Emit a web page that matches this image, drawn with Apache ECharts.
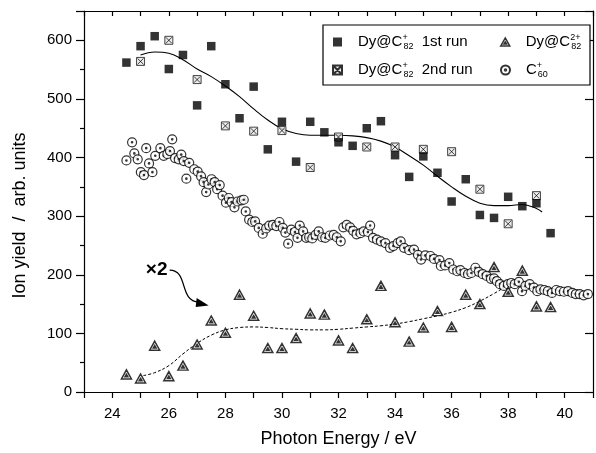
<!DOCTYPE html>
<html>
<head>
<meta charset="utf-8">
<script src="https://cdn.jsdelivr.net/npm/echarts@6/dist/echarts.min.js"></script>
<style>
  html, body { margin: 0; padding: 0; background: #fff; }
  #chart { width: 596px; height: 453px; }
</style>
</head>
<body>
<div id="chart"></div>
<script>
const FONT = '"Liberation Sans", Arial, Helvetica, sans-serif';

// Tick labels
const xTickLabels = [24, 26, 28, 30, 32, 34, 36, 38, 40];
const yTickLabels = [0, 100, 200, 300, 400, 500, 600];

// Dy@C82+ ion yield, 1st run
const run1E = [24.5, 25, 25.5, 26, 26.5, 27, 27.5, 28, 28.5, 29, 29.5, 30, 30.5, 31, 31.5, 32,
  32.5, 33, 33.5, 34, 34.5, 35, 35.5, 36, 36.5, 37, 37.5, 38, 38.5, 39, 39.5];
const run1Y = [562, 590, 607, 551, 575, 489, 590, 525, 467, 521, 414, 461, 393, 461, 443, 426,
  420, 450, 462, 404, 367, 402, 374, 325, 363, 302, 297, 333, 317, 322, 271];

// Dy@C82+ ion yield, 2nd run
const run2E = [25, 26, 27, 28, 29, 30, 31, 32, 33, 34, 35, 36, 37, 38, 39];
const run2Y = [564, 600, 533, 454, 445, 446, 383, 435, 418, 418, 414, 410, 346, 287, 335];

// Dy@C82 2+ ion yield (scaled x2)
const dicE = [24.5, 25, 25.5, 26, 26.5, 27, 27.5, 28, 28.5, 29, 29.5, 30, 30.5, 31, 31.5, 32,
  32.5, 33, 33.5, 34, 34.5, 35, 35.5, 36, 36.5, 37, 37.5, 38, 38.5, 39, 39.5];
const dicY = [30, 23, 79, 27, 45, 81, 122, 101, 166, 130, 75, 75, 92, 134, 132, 88,
  75, 124, 181, 119, 86, 110, 138, 111, 166, 150, 213, 171, 207, 146, 145];

// C60+ ion yield
const c60E = [24.50, 24.70, 24.78, 24.90, 25.01, 25.12, 25.20, 25.30, 25.42, 25.52,
  25.70, 25.82, 25.95, 26.04, 26.12, 26.22, 26.35, 26.44, 26.53, 26.62,
  26.72, 26.90, 27.02, 27.14, 27.23, 27.32, 27.40, 27.51, 27.62, 27.71,
  27.80, 27.90, 28.02, 28.12, 28.22, 28.32, 28.43, 28.57, 28.65, 28.72,
  28.84, 28.95, 29.05, 29.18, 29.32, 29.44, 29.55, 29.68, 29.80, 29.91,
  30.03, 30.12, 30.22, 30.33, 30.46, 30.55, 30.63, 30.75, 30.86, 30.96,
  31.07, 31.19, 31.30, 31.42, 31.53, 31.69, 31.83, 31.94, 32.08, 32.17,
  32.29, 32.41, 32.52, 32.64, 32.78, 32.89, 33.04, 33.12, 33.22, 33.36,
  33.50, 33.66, 33.82, 33.94, 34.09, 34.20, 34.32, 34.50, 34.67, 34.81,
  34.92, 35.07, 35.25, 35.38, 35.57, 35.62, 35.77, 35.92, 36.06, 36.20,
  36.31, 36.46, 36.58, 36.70, 36.84, 36.96, 37.10, 37.24, 37.39, 37.50,
  37.60, 37.71, 37.85, 37.99, 38.11, 38.23, 38.38, 38.49, 38.61, 38.76,
  38.91, 39.03, 39.14, 39.28, 39.40, 39.55, 39.70, 39.83, 39.97, 40.12,
  40.27, 40.39, 40.53, 40.67, 40.82];
const c60Y = [395, 426, 407, 397, 375, 370, 416, 390, 375, 403,
  416, 403, 406, 411, 431, 399, 397, 405, 394, 364,
  391, 380, 376, 368, 358, 341, 354, 363, 358, 346,
  353, 335, 323, 331, 324, 315, 325, 327, 328, 308,
  294, 290, 291, 280, 270, 279, 284, 285, 283, 290,
  280, 272, 253, 277, 273, 263, 284, 274, 263, 264,
  262, 268, 274, 264, 263, 267, 268, 264, 257, 281,
  285, 281, 275, 269, 271, 274, 273, 284, 263, 260,
  257, 254, 246, 249, 254, 257, 246, 242, 243, 234,
  226, 233, 232, 227, 225, 215, 216, 220, 209, 206,
  208, 203, 201, 203, 212, 205, 201, 198, 193, 194,
  189, 184, 181, 184, 186, 184, 188, 172, 181, 184,
  178, 172, 175, 174, 172, 169, 174, 172, 171, 172,
  169, 167, 167, 165, 167];

// Fit curve through Dy@C82+ (solid)
const fitE = [25.0, 25.5, 26.0, 26.5, 27.0, 27.5, 28.0, 28.5, 29.0, 29.5, 30.0, 30.5, 31.0, 31.5,
  32.0, 32.5, 33.0, 33.5, 34.0, 34.5, 35.0, 35.5, 36.0, 36.5, 37.0, 37.5, 38.0, 38.5, 39.0, 39.2];
const fitY = [575, 580, 578, 567, 551, 538, 522, 504, 483, 464, 449, 441, 438, 438,
  438, 437, 434, 428, 418, 403, 387, 368, 350, 334, 322, 318, 318, 320, 313, 307];

// Fit curve through Dy@C82 2+ (dashed)
const fit2E = [25.1, 25.5, 26.0, 26.5, 27.0, 27.5, 28.0, 28.5, 29.0, 29.5, 30.0, 30.5, 31.0, 31.5,
  32.0, 32.5, 33.0, 33.5, 34.0, 34.5, 35.0, 35.5, 36.0, 36.5, 37.0, 37.5, 38.0, 38.3];
const fit2Y = [28, 33, 45, 65, 83, 97, 106, 110, 111, 110, 108, 107, 106, 106,
  107, 109, 111, 113, 116, 120, 125, 130, 136, 144, 155, 168, 182, 188];

// Annotation for the scaled series
const scaleNote = '×2';
const scaleNoteAt = [25.57, 208];

const zip = (xs, ys) => xs.map((x, i) => [x, ys[i]]);

// Marker shapes
const SYM_BOXX = 'path://M0,0H10V10H0Z M1.2,1.2L8.8,8.8 M8.8,1.2L1.2,8.8';
const SYM_RING = 'path://M0,5A5,5 0 1,0 10,5A5,5 0 1,0 0,5Z M4.2,5A0.8,0.8 0 1,0 5.8,5A0.8,0.8 0 1,0 4.2,5Z';
const SYM_TRI = 'path://M5,0L10,9H0Z M5,4.4L6.4,6.8H3.6Z';

const TRI_STYLE = { color: '#fff', borderColor: '#000', borderWidth: 1.5 };

const legendText = {
  run1: '{m|Dy@C}{p|+}{s|82}{m|  1st run}',
  dic: '{m|Dy@C}{p|2+}{s|82}',
  run2: '{m|Dy@C}{p|+}{s|82}{m|  2nd run}',
  c60: '{m|C}{p|+}{s|60}'
};

const chart = echarts.init(document.getElementById('chart'), null, { renderer: 'canvas' });

const axisCommon = {
  axisLine: { show: true, onZero: false, lineStyle: { color: '#000', width: 1.2 } },
  splitLine: { show: false }
};

chart.setOption({
  animation: false,
  backgroundColor: '#fff',
  grid: { left: 84, right: -6, top: 11, bottom: 58, containLabel: false },
  xAxis: [
    Object.assign({}, axisCommon, {
      type: 'value', min: 23, max: 41, interval: 1, position: 'bottom',
      axisTick: { show: true, inside: false, length: 6, lineStyle: { color: '#000', width: 1.2 } },
      axisLabel: {
        fontFamily: FONT, fontSize: 15, color: '#000', margin: 14,
        formatter: v => (xTickLabels.indexOf(v) >= 0 ? String(v) : '')
      },
      name: 'Photon Energy / eV', nameLocation: 'middle', nameGap: 38,
      nameTextStyle: { fontFamily: FONT, fontSize: 18, color: '#000' }
    }),
    Object.assign({}, axisCommon, {
      type: 'value', min: 23, max: 41, interval: 1, position: 'top',
      axisTick: { show: true, inside: true, length: 5, lineStyle: { color: '#000', width: 1.2 } },
      axisLabel: { show: false }
    })
  ],
  yAxis: [
    Object.assign({}, axisCommon, {
      type: 'value', min: 0, max: 650, interval: 100, position: 'left',
      axisTick: { show: true, inside: false, length: 8, lineStyle: { color: '#000', width: 1.2 } },
      minorTick: { show: true, splitNumber: 2, length: 4, lineStyle: { color: '#000', width: 1.2 } },
      axisLabel: {
        fontFamily: FONT, fontSize: 15, color: '#000', margin: 12,
        formatter: v => (yTickLabels.indexOf(v) >= 0 ? String(v) : '')
      },
      name: 'Ion yield  /  arb. units', nameLocation: 'middle', nameGap: 55,
      nameTextStyle: { fontFamily: FONT, fontSize: 18, color: '#000', padding: [0, 28, 0, 0] }
    }),
    Object.assign({}, axisCommon, {
      type: 'value', min: 0, max: 650, interval: 100, position: 'right',
      axisTick: { show: true, inside: true, length: 8, lineStyle: { color: '#000', width: 1.2 } },
      axisLabel: { show: false }
    })
  ],
  legend: {
    left: 323, top: 25, orient: 'horizontal', width: 250,
    itemWidth: 9, itemHeight: 9, itemGap: 10,
    padding: [8, 8, 6, 9],
    borderColor: '#000', borderWidth: 1.2, backgroundColor: '#fff',
    selectedMode: false,
    data: [
      { name: 'run1', textStyle: { width: 132 } },
      { name: 'dic', textStyle: { width: 56 }, itemStyle: TRI_STYLE },
      { name: 'run2', textStyle: { width: 132 } },
      { name: 'c60', textStyle: { width: 56 } }
    ],
    formatter: n => legendText[n],
    textStyle: {
      fontFamily: FONT, fontSize: 15, color: '#000', padding: [0, 0, 0, 11], lineHeight: 18,
      rich: {
        m: { fontFamily: FONT, fontSize: 15, color: '#000', lineHeight: 18 },
        p: { fontFamily: FONT, fontSize: 9, color: '#000', verticalAlign: 'top', width: 1, lineHeight: 10 },
        s: { fontFamily: FONT, fontSize: 9, color: '#000', verticalAlign: 'bottom', lineHeight: 10 }
      }
    }
  },
  series: [
    {
      name: 'fit1', type: 'line', data: zip(fitE, fitY), smooth: 0.4, showSymbol: false,
      lineStyle: { color: '#000', width: 1.1 }, silent: true, z: 1
    },
    {
      name: 'fit2', type: 'line', data: zip(fit2E, fit2Y), smooth: 0.4, showSymbol: false,
      lineStyle: { color: '#000', width: 1, type: [3, 2] }, silent: true, z: 1
    },
    {
      name: 'c60', type: 'scatter', data: zip(c60E, c60Y), symbol: SYM_RING, symbolSize: 9,
      itemStyle: { color: '#fff', borderColor: '#000', borderWidth: 1.2 }, z: 2
    },
    {
      name: 'run2', type: 'scatter', data: zip(run2E, run2Y), symbol: SYM_BOXX, symbolSize: 8,
      itemStyle: { color: '#e6e6e6', borderColor: '#000', borderWidth: 0.9 }, z: 3
    },
    {
      name: 'run1', type: 'scatter', data: zip(run1E, run1Y), symbol: 'rect', symbolSize: 8.5,
      itemStyle: { color: '#000' }, z: 4
    },
    {
      name: 'dic', type: 'scatter', data: zip(dicE, dicY), symbol: SYM_TRI, symbolSize: [10, 9],
      itemStyle: TRI_STYLE, z: 4
    }
  ]
});

// "×2" label with a curved arrow pointing at the scaled series
const p = chart.convertToPixel({ gridIndex: 0 }, scaleNoteAt);
chart.setOption({
  graphic: [
    {
      type: 'text', x: p[0], y: p[1], z: 10,
      style: { text: scaleNote, font: 'bold 19px ' + FONT, fill: '#000', align: 'center', verticalAlign: 'middle' }
    },
    {
      type: 'bezierCurve', z: 10,
      shape: { x1: p[0] + 13, y1: p[1], cpx1: p[0] + 32, cpy1: p[1], cpx2: p[0] + 22, cpy2: p[1] + 31, x2: p[0] + 42, y2: p[1] + 32 },
      style: { stroke: '#000', lineWidth: 1.2, fill: null }
    },
    {
      type: 'polygon', z: 10,
      shape: { points: [[p[0] + 40, p[1] + 28], [p[0] + 52, p[1] + 35.5], [p[0] + 39, p[1] + 37]] },
      style: { fill: '#000' }
    }
  ]
});
</script>
</body>
</html>
